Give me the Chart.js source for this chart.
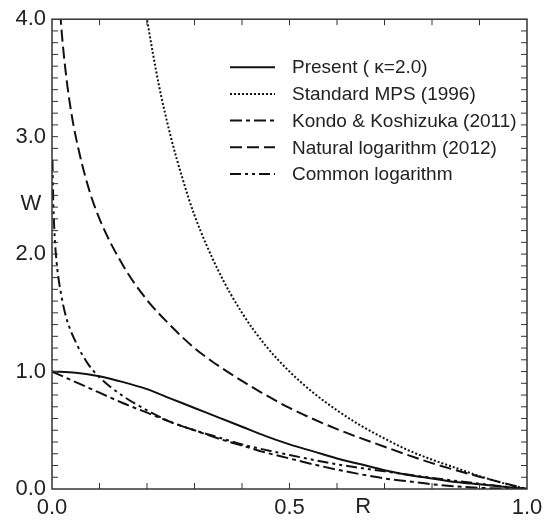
<!DOCTYPE html>
<html>
<head>
    <title>Weight functions</title>
    <script src="https://cdn.jsdelivr.net/npm/chart.js"></script>
    <style>
        body {
            margin: 0;
            background-color: #fff;
        }
        .chart-container {
            width: 550px;
            height: 522px;
            position: relative;
        }
    </style>
</head>
<body>
<div class="chart-container">
    <canvas id="weightChart"></canvas>
</div>

<script>
    // series labels
    const seriesNames = ['Present ( \u03ba=2.0)', 'Standard MPS (1996)', 'Kondo & Koshizuka (2011)', 'Natural logarithm (2012)', 'Common logarithm'];

    // values (R, W)
    const rPresent = [0, 0.05, 0.1, 0.15, 0.2, 0.25, 0.3, 0.35, 0.4, 0.45, 0.5, 0.55, 0.6, 0.65, 0.7, 0.75, 0.8, 0.85, 0.9, 0.95, 1.0];
    const wPresent = [1.00, 0.99, 0.96, 0.91, 0.85, 0.77, 0.69, 0.61, 0.53, 0.45, 0.38, 0.32, 0.26, 0.21, 0.16, 0.12, 0.09, 0.06, 0.04, 0.02, 0.00];

    const rStandard = [0.19, 0.2, 0.225, 0.25, 0.275, 0.3, 0.35, 0.4, 0.45, 0.5, 0.55, 0.6, 0.65, 0.7, 0.75, 0.8, 0.85, 0.9, 0.95, 1.0];
    const wStandard = [4.26, 4.00, 3.44, 3.00, 2.64, 2.33, 1.86, 1.50, 1.22, 1.00, 0.82, 0.67, 0.54, 0.43, 0.33, 0.25, 0.18, 0.11, 0.05, 0.00];

    const rKondo = [0, 0.05, 0.1, 0.15, 0.2, 0.25, 0.3, 0.35, 0.4, 0.45, 0.5, 0.55, 0.6, 0.65, 0.7, 0.75, 0.8, 0.85, 0.9, 0.95, 1.0];
    const wKondo = [1.00, 0.91, 0.82, 0.73, 0.65, 0.57, 0.50, 0.43, 0.37, 0.31, 0.26, 0.21, 0.165, 0.125, 0.09, 0.065, 0.04, 0.023, 0.01, 0.003, 0.00];

    const rNatural = [0.015, 0.02, 0.03, 0.04, 0.05, 0.075, 0.1, 0.15, 0.2, 0.25, 0.3, 0.35, 0.4, 0.45, 0.5, 0.6, 0.7, 0.8, 0.9, 1.0];
    const wNatural = [4.20, 3.91, 3.51, 3.22, 3.00, 2.59, 2.30, 1.90, 1.61, 1.39, 1.20, 1.05, 0.92, 0.80, 0.69, 0.51, 0.36, 0.22, 0.105, 0.00];

    const rCommon = [0.001, 0.002, 0.005, 0.01, 0.02, 0.03, 0.05, 0.075, 0.1, 0.15, 0.2, 0.25, 0.3, 0.35, 0.4, 0.5, 0.6, 0.7, 0.8, 0.9, 1.0];
    const wCommon = [2.80, 2.55, 2.20, 1.92, 1.64, 1.46, 1.25, 1.07, 0.95, 0.79, 0.67, 0.57, 0.50, 0.44, 0.38, 0.29, 0.21, 0.15, 0.095, 0.045, 0.00];

    const FONT = "'Liberation Sans', Arial, sans-serif";
    const INK = '#111';

    function pts(rs, ws) {
        return rs.map((r, i) => ({x: r, y: ws[i]}));
    }

    function series(name, rs, ws, dash) {
        return {
            label: name,
            data: pts(rs, ws),
            borderColor: INK,
            borderWidth: 2,
            borderDash: dash,
            pointRadius: 0,
            cubicInterpolationMode: 'monotone'
        };
    }

    // box, inward minor ticks, axis titles and legend
    const frame = {
        id: 'frame',
        afterDraw(chart) {
            const {ctx, chartArea: a, scales: {x, y}} = chart;
            ctx.save();
            ctx.strokeStyle = '#333';
            ctx.lineWidth = 1.5;
            ctx.setLineDash([]);
            ctx.strokeRect(a.left, a.top, a.right - a.left, a.bottom - a.top);

            ctx.lineWidth = 1;
            ctx.beginPath();
            for (let i = 1; i < 10; i++) {
                const px = x.getPixelForValue(i / 10);
                ctx.moveTo(px, a.bottom); ctx.lineTo(px, a.bottom - 6);
                ctx.moveTo(px, a.top); ctx.lineTo(px, a.top + 6);
            }
            for (let i = 1; i < 40; i++) {
                const py = y.getPixelForValue(i / 10);
                ctx.moveTo(a.left, py); ctx.lineTo(a.left + 6, py);
                ctx.moveTo(a.right, py); ctx.lineTo(a.right - 6, py);
            }
            ctx.stroke();

            // axis titles
            ctx.fillStyle = '#222';
            ctx.font = '22px ' + FONT;
            ctx.textBaseline = 'middle';
            ctx.textAlign = 'center';
            ctx.fillText('R', x.getPixelForValue(0.655), a.bottom + 18);
            ctx.fillText('W', 31, y.getPixelForValue(2.43));

            // legend
            ctx.font = '19px ' + FONT;
            ctx.textAlign = 'left';
            const lx = a.left + 178;
            const ly = a.top + 48;
            chart.data.datasets.forEach((ds, i) => {
                const yy = ly + i * 26.7;
                ctx.strokeStyle = INK;
                ctx.lineWidth = 2;
                ctx.setLineDash(ds.borderDash || []);
                ctx.beginPath();
                ctx.moveTo(lx, yy);
                ctx.lineTo(lx + 45, yy);
                ctx.stroke();
                ctx.fillText(ds.label, lx + 62, yy + 1);
            });
            ctx.restore();
        }
    };

    const ctx = document.getElementById('weightChart').getContext('2d');
    const chart = new Chart(ctx, {
        type: 'line',
        data: {
            datasets: [
                series(seriesNames[0], rPresent, wPresent, []),
                series(seriesNames[1], rStandard, wStandard, [2, 2]),
                series(seriesNames[2], rKondo, wKondo, [12, 4, 4, 4]),
                series(seriesNames[3], rNatural, wNatural, [12, 5]),
                series(seriesNames[4], rCommon, wCommon, [11, 4, 3, 4, 3, 4])
            ]
        },
        options: {
            responsive: true,
            maintainAspectRatio: false,
            animation: false,
            layout: { padding: { top: 15, right: 23, left: 0, bottom: 0 } },
            plugins: { legend: { display: false }, tooltip: { enabled: false } },
            scales: {
                x: {
                    type: 'linear',
                    min: 0, max: 1,
                    grid: { display: false, drawTicks: false },
                    border: { display: false },
                    ticks: {
                        stepSize: 0.5, padding: 6, color: '#222',
                        font: { family: FONT, size: 22 },
                        maxRotation: 0,
                        callback: v => v.toFixed(1)
                    },
                    afterFit: s => { s.height = 33; }
                },
                y: {
                    min: 0, max: 4,
                    grid: { display: false, drawTicks: false },
                    border: { display: false },
                    ticks: {
                        stepSize: 1, padding: 6, color: '#222',
                        font: { family: FONT, size: 22 },
                        callback: v => v.toFixed(1)
                    },
                    afterFit: s => { s.width = 52; }
                }
            }
        },
        plugins: [frame]
    });
</script>
</body>
</html>
